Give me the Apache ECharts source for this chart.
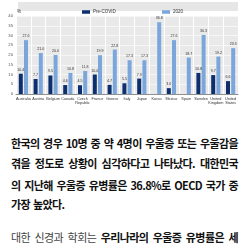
<!DOCTYPE html>
<html>
<head>
<meta charset="utf-8">
<script src="https://cdn.jsdelivr.net/npm/echarts@6/dist/echarts.min.js"></script>
<style>
  html, body { margin: 0; padding: 0; background: #fff; width: 250px; height: 250px; overflow: hidden; }
  #chart { position: absolute; left: 0; top: 0; width: 250px; height: 108px; }
  .ln {
    position: absolute; left: 11px; width: 227px; height: 16px;
    display: flex; justify-content: space-between; align-items: center;
    font-family: "Noto Sans CJK KR", sans-serif; font-weight: 700; font-size: 11px;
    letter-spacing: -0.6px; color: #111; white-space: nowrap;
  }
  .ln.left { justify-content: flex-start; gap: 3px; }
  .ln .light { font-weight: 400; color: #444; }
</style>
</head>
<body>
<div id="chart"></div>
<div id="text"></div>
<script>
// 국가 / 시점별 우울증 유병률 (%)
const categories = ['Australia', 'Austria', 'Belgium', 'Canada', 'Czech\nRepublic', 'France', 'Greece', 'Italy',
  'Japan', 'Korea', 'Mexico', 'Spain', 'Sweden', 'United\nKingdom', 'United\nStates'];
const preCovid = [10.4, 7.7, 9.5, 4.6, 4.5, 10.0, 4.7, 5.5, 7.9, '-', 3.0, '-', 10.8, 9.7, 6.6];
const y2020 = [27.6, 21.0, 20.0, 10.8, 11.8, 19.9, 22.8, 17.3, 17.3, 36.8, 27.6, 18.7, 30.3, 19.2, 23.5];
const seriesNames = ['Pre-COVID', '2020'];
const yMin = 0, yMax = 40, yStep = 5;

// 본문 (줄바꿈은 원본 그대로)
const lines = [
  { y: 135, words: ['한국의', '경우', '10명', '중', '약', '4명이', '우울증', '또는', '우울감을'] },
  { y: 155, words: ['겪을', '정도로', '상황이', '심각하다고', '나타났다.', '대한민국'] },
  { y: 177, words: ['의', '지난해', '우울증', '유병률은', '36.8%로', 'OECD', '국가', '중'] },
  { y: 196, words: ['가장', '높았다.'], left: true },
  { y: 229, words: ['대한', '신경과', '학회는', '우리나라의', '우울증', '유병률은', '세'], lightCount: 3 },
];

const textBox = document.getElementById('text');
lines.forEach((l) => {
  const div = document.createElement('div');
  div.className = 'ln' + (l.left ? ' left' : '');
  div.style.top = l.y + 'px';
  l.words.forEach((w, i) => {
    const s = document.createElement('span');
    s.textContent = w;
    if (l.lightCount && i < l.lightCount) s.className = 'light';
    div.appendChild(s);
  });
  textBox.appendChild(div);
});

const darkColor = '#0d2f6e';
const lightColor = '#7ba6dc';
const labelStyle = {
  show: true,
  position: 'top',
  distance: 2,
  fontSize: 3.6,
  color: '#333',
  formatter: (p) => Number(p.value).toFixed(1),
};

const chart = echarts.init(document.getElementById('chart'));
chart.setOption({
  animation: false,
  textStyle: { fontFamily: 'Arial, Liberation Sans, sans-serif' },
  graphic: [
    { type: 'rect', shape: { x: 18, y: 2, width: 220, height: 9 }, style: { fill: '#e6e6e6' }, z: -1 },
  ],
  legend: [
    {
      data: [seriesNames[0]], left: 77, top: 4.5, itemWidth: 8, itemHeight: 3.5, itemGap: 2,
      icon: 'rect', textStyle: { fontSize: 4.5, color: '#333', padding: [0, 0, 0, -2] },
    },
    {
      data: [seriesNames[1]], left: 157, top: 4.5, itemWidth: 8, itemHeight: 3.5, itemGap: 2,
      icon: 'rect', textStyle: { fontSize: 4.5, color: '#333', padding: [0, 0, 0, -2] },
    },
  ],
  grid: { left: 16, right: 12, top: 16, bottom: 14, show: true, backgroundColor: '#e9e9e9', borderWidth: 0 },
  xAxis: {
    type: 'category',
    data: categories,
    axisLine: { show: true, lineStyle: { color: '#444', width: 0.6 } },
    axisTick: { show: false },
    splitLine: { show: true, lineStyle: { color: '#fff', width: 1 } },
    axisLabel: { interval: 0, fontSize: 3.8, lineHeight: 4.2, color: '#333', margin: 3 },
  },
  yAxis: {
    type: 'value',
    min: yMin, max: yMax, interval: yStep,
    name: '%',
    nameLocation: 'end',
    nameGap: 2,
    nameTextStyle: { fontSize: 4.5, color: '#333', align: 'left', padding: [0, 0, 0, 1] },
    axisLine: { show: false },
    axisTick: { show: false },
    splitLine: { lineStyle: { color: '#fff', width: 0.6 } },
    axisLabel: { fontSize: 4.2, color: '#555', margin: 3 },
  },
  series: [
    {
      name: seriesNames[0], type: 'bar', data: preCovid,
      barWidth: 4, barGap: '30%',
      itemStyle: { color: darkColor }, label: labelStyle,
    },
    {
      name: seriesNames[1], type: 'bar', data: y2020,
      barWidth: 4,
      itemStyle: { color: lightColor }, label: labelStyle,
    },
  ],
});
</script>
</body>
</html>
